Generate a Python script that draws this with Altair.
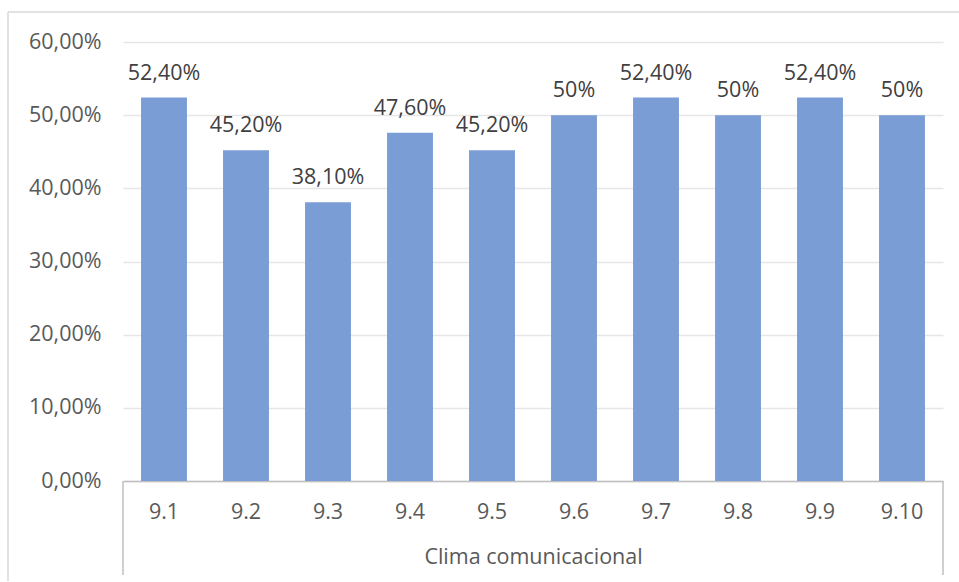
import altair as alt
import pandas as pd

categories = ["9.1", "9.2", "9.3", "9.4", "9.5", "9.6", "9.7", "9.8", "9.9", "9.10"]
values = [0.524, 0.452, 0.381, 0.476, 0.452, 0.50, 0.524, 0.50, 0.524, 0.50]
labels = ["52,40%", "45,20%", "38,10%", "47,60%", "45,20%", "50%", "52,40%", "50%", "52,40%", "50%"]
group_title = "Clima comunicacional"

df = pd.DataFrame({"cat": categories, "val": values, "lab": labels})

FONT = "Open Sans"
FS = 21.5
W, H = 820, 439

x = alt.X("cat:N", sort=categories,
          scale=alt.Scale(paddingInner=0.44, paddingOuter=0.22),
          axis=alt.Axis(title=group_title, labelAngle=0, labelFont=FONT, labelFontSize=FS,
                        labelColor="#595959", labelPadding=20, ticks=False,
                        domainColor="#bfbfbf", domainWidth=1.5,
                        titleFont=FONT, titleFontSize=FS, titleFontWeight="normal",
                        titleColor="#595959", titlePadding=24))
y = alt.Y("val:Q", scale=alt.Scale(domain=[0, 0.6]),
          axis=alt.Axis(title=None, values=[0, 0.1, 0.2, 0.3, 0.4, 0.5, 0.6],
                        labelExpr="replace(format(datum.value, '.2%'), '.', ',')",
                        labelFont=FONT, labelFontSize=FS, labelColor="#595959",
                        labelPadding=22, ticks=False, domain=False,
                        gridColor="#e6e6e6", gridWidth=1.5))

base = alt.Chart(df)
bars = base.mark_bar(color="#7A9DD6").encode(x=x, y=y)
text = base.mark_text(dy=-13, baseline="bottom", font=FONT, fontSize=FS, color="#404040").encode(
    x=alt.X("cat:N", sort=categories), y="val:Q", text="lab:N")

frame_src = pd.DataFrame({"k": [0]})
left_tick = alt.Chart(frame_src).mark_rule(color="#bfbfbf", strokeWidth=1.5).encode(
    x=alt.value(0), y=alt.value(H), y2=alt.value(H + 94))
right_tick = alt.Chart(frame_src).mark_rule(color="#bfbfbf", strokeWidth=1.5).encode(
    x=alt.value(W), y=alt.value(H), y2=alt.value(H + 94))
border_left = alt.Chart(frame_src).mark_rule(color="#d9d9d9", strokeWidth=1.5).encode(
    x=alt.value(-115), y=alt.value(-30), y2=alt.value(H + 100))
border_top = alt.Chart(frame_src).mark_rule(color="#d9d9d9", strokeWidth=1.5).encode(
    x=alt.value(-115), x2=alt.value(W + 40), y=alt.value(-30))

chart = alt.layer(bars, text, left_tick, right_tick, border_left, border_top).properties(
    width=W, height=H,
    autosize=alt.AutoSizeParams(type="none"),
    padding={"left": 123, "top": 42, "right": 16, "bottom": 101},
    background="white",
).configure_view(stroke=None)

chart.save("out.html", embed_options={"renderer": "svg", "actions": False})
